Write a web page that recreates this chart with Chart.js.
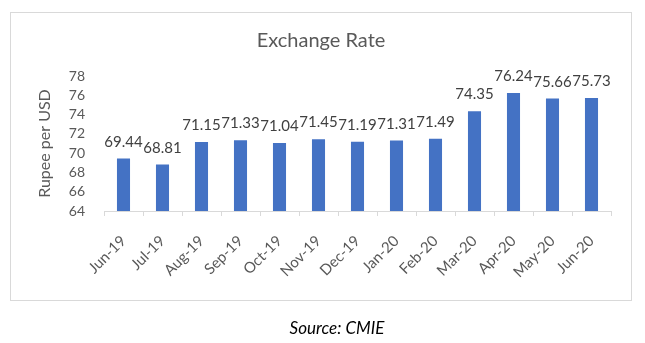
<!DOCTYPE html>
<html>
<head>
<meta charset="utf-8">
<script src="https://cdn.jsdelivr.net/npm/chart.js@4/dist/chart.umd.min.js"></script>
<style>
  html, body { margin: 0; padding: 0; background: #ffffff; }
  #wrap { position: relative; width: 645px; height: 343px; }
  #c { position: absolute; left: 0; top: 0; }
  #source { position: absolute; left: 237px; width: 200px; top: 317px; text-align: center;
            font-family: Lato, "Liberation Sans", sans-serif; font-style: italic; font-size: 17px; color: #000; }
</style>
</head>
<body>
<div id="wrap">
  <canvas id="c" width="645" height="343"></canvas>
  <div id="source">Source: CMIE</div>
</div>
<script>
const categories = ["Jun-19","Jul-19","Aug-19","Sep-19","Oct-19","Nov-19","Dec-19","Jan-20","Feb-20","Mar-20","Apr-20","May-20","Jun-20"];
const rupeePerUsd = [69.44, 68.81, 71.15, 71.33, 71.04, 71.45, 71.19, 71.31, 71.49, 74.35, 76.24, 75.66, 75.73];
const yTicks = { min: 64, max: 78, step: 2 };
const chartTitle = "Exchange Rate";
const yAxisTitle = "Rupee per USD";

const FONT = 'Lato, "Liberation Sans", sans-serif';

const borderPlugin = {
  id: 'borderBox',
  beforeDraw(chart) {
    const ctx = chart.ctx;
    ctx.save();
    ctx.strokeStyle = '#d9d9d9';
    ctx.lineWidth = 1;
    ctx.strokeRect(10.5, 12.5, 621, 288);
    ctx.restore();
  }
};

const labelPlugin = {
  id: 'valueLabels',
  afterDatasetsDraw(chart) {
    const ctx = chart.ctx;
    const meta = chart.getDatasetMeta(0);
    const data = chart.data.datasets[0].data;
    ctx.save();
    ctx.font = '15px ' + FONT;
    ctx.fillStyle = '#404040';
    ctx.textAlign = 'center';
    ctx.textBaseline = 'alphabetic';
    meta.data.forEach((bar, i) => {
      ctx.fillText(Number(data[i]).toFixed(2), bar.x, bar.y - 12);
    });
    ctx.restore();
  }
};

new Chart(document.getElementById('c'), {
  type: 'bar',
  data: {
    labels: categories,
    datasets: [{
      data: rupeePerUsd,
      backgroundColor: '#4472C4',
      borderWidth: 0,
      categoryPercentage: 1.0,
      barPercentage: 0.335
    }]
  },
  options: {
    responsive: false,
    animation: false,
    devicePixelRatio: 1,
    layout: { padding: { top: 26, left: 31, right: 34, bottom: 0 } },
    plugins: {
      legend: { display: false },
      tooltip: { enabled: false },
      title: {
        display: true,
        text: chartTitle,
        color: '#595959',
        font: { family: FONT, size: 20, weight: 'normal' },
        padding: { top: 3, bottom: 23 }
      }
    },
    scales: {
      x: {
        grid: { display: true, offset: true, drawOnChartArea: false, drawTicks: true, tickLength: 5, color: '#d9d9d9' },
        border: { display: true, color: '#d9d9d9' },
        ticks: {
          color: '#595959',
          font: { family: FONT, size: 15 },
          minRotation: 45, maxRotation: 45,
          autoSkip: false,
          padding: 16
        },
        afterFit(scale) { scale.height = 132; }
      },
      y: {
        min: yTicks.min,
        max: yTicks.max,
        grid: { display: false, drawTicks: false },
        border: { display: false },
        ticks: {
          stepSize: yTicks.step,
          autoSkip: false,
          color: '#595959',
          font: { family: FONT, size: 14 },
          padding: 19
        },
        title: {
          display: true,
          text: yAxisTitle,
          color: '#595959',
          font: { family: FONT, size: 16, weight: 'normal' },
          padding: { top: 4, bottom: 0 }
        },
        afterFit(scale) { scale.width = 73; }
      }
    }
  },
  plugins: [borderPlugin, labelPlugin]
});
</script>
</body>
</html>
